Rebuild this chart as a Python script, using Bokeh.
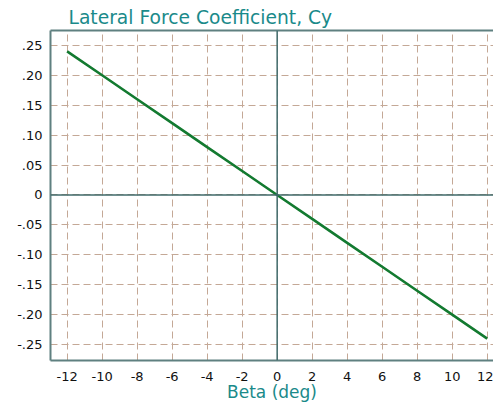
from bokeh.plotting import figure
from bokeh.models import Range1d, FixedTicker, Span, LinearAxis
from bokeh.embed import file_html
from bokeh.resources import INLINE

beta = [-12, -10, -8, -6, -4, -2, 0, 2, 4, 6, 8, 10, 12]
cy = [0.24, 0.20, 0.16, 0.12, 0.08, 0.04, 0.0, -0.04, -0.08, -0.12, -0.16, -0.20, -0.24]
x_ticks = [-12, -10, -8, -6, -4, -2, 0, 2, 4, 6, 8, 10, 12]
y_ticks = [0.25, 0.20, 0.15, 0.10, 0.05, 0.0, -0.05, -0.10, -0.15, -0.20, -0.25]
y_labels = [".25", ".20", ".15", ".10", ".05", "0", "-.05", "-.10", "-.15", "-.20", "-.25"]

TEAL = "#1a8a8a"
FRAME = "#5f8080"
FONT = "DejaVu Sans"

p = figure(width=493, height=404, output_backend="svg", toolbar_location=None,
           x_range=Range1d(-12.95, 12.36), y_range=Range1d(-0.2766, 0.2748),
           min_border_left=50, min_border_right=0, min_border_top=30, min_border_bottom=41,
           outline_line_color=None)

p.title.text = "Lateral Force Coefficient, Cy"
p.title.text_color = TEAL
p.title.text_font = FONT
p.title.text_font_size = "18.7px"
p.title.text_font_style = "normal"
p.title.offset = 18
p.title.standoff = 6

p.xaxis.ticker = FixedTicker(ticks=x_ticks)
p.yaxis.ticker = FixedTicker(ticks=y_ticks)
p.yaxis.major_label_overrides = {t: l for t, l in zip(y_ticks, y_labels)}
p.xaxis.major_label_overrides = {t: str(t) for t in x_ticks}

for ax in (p.xaxis[0], p.yaxis[0]):
    ax.major_tick_in = 0
    ax.major_tick_out = 0
    ax.minor_tick_in = 0
    ax.minor_tick_out = 0
    ax.axis_line_color = FRAME
    ax.axis_line_width = 2
    ax.major_label_text_font = FONT
    ax.major_label_text_font_size = "13px"
    ax.major_label_text_color = "#111111"

p.yaxis.major_label_standoff = 8
p.xaxis.major_label_standoff = 11
p.xaxis.axis_label = "Beta (deg)"
p.xaxis.axis_label_text_color = TEAL
p.xaxis.axis_label_text_font = FONT
p.xaxis.axis_label_text_font_size = "17px"
p.xaxis.axis_label_text_font_style = "normal"
p.xaxis.axis_label_standoff = -2

top = LinearAxis(ticker=FixedTicker(ticks=[]), axis_line_color=FRAME, axis_line_width=2,
                 major_tick_in=0, major_tick_out=0, minor_tick_in=0, minor_tick_out=0,
                 major_label_text_font_size="0px")
p.add_layout(top, "above")

p.grid.grid_line_color = "#c4a896"
p.grid.grid_line_dash = "7 4"
p.grid.grid_line_width = 1

p.add_layout(Span(location=0, dimension="height", line_color="#3f6a6a", line_width=1.5))
p.add_layout(Span(location=0, dimension="width", line_color="#3f6a6a", line_width=1.5))

p.line(beta, cy, line_color="#137a30", line_width=2.6)

open("out.html", "w").write(file_html(p, INLINE))
